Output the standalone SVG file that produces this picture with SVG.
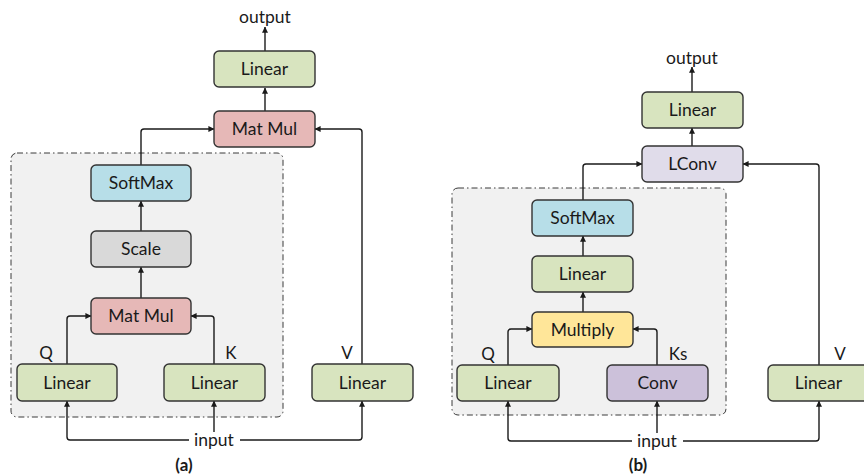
<svg xmlns="http://www.w3.org/2000/svg" width="864" height="476" viewBox="0 0 864 476">
  <defs>
    <marker id="ah" viewBox="0 0 8 8" refX="7.5" refY="4" markerWidth="6" markerHeight="6" markerUnits="userSpaceOnUse" orient="auto">
      <path d="M0,0 L8,4 L0,8 z" fill="#1a1a1a"/>
    </marker>
  </defs>
  <style>
    text { font-family: Lato, "Open Sans", "Liberation Sans", sans-serif; fill: #1a1a1a; }
    .lbl { font-size: 17.5px; text-anchor: middle; }
    .tag { font-size: 17px; text-anchor: middle; }
    .cap { font-size: 17px; font-weight: bold; text-anchor: middle; }
    .box { stroke: #333333; stroke-width: 1.4; }
    .green { fill: #d8e4bf; }
    .red { fill: #e6b8b7; }
    .blue { fill: #b7dee8; }
    .gray { fill: #d9d9d9; }
    .yellow { fill: #ffe699; }
    .lav { fill: #e0dcea; }
    .purple { fill: #ccc1da; }
    .region { fill: #f1f1f1; stroke: #3a3a3a; stroke-width: 1; stroke-dasharray: 6 3 1.5 3; }
    .wire { fill: none; stroke: #1a1a1a; stroke-width: 1.4; }
    .arr { marker-end: url(#ah); }
  </style>

  <!-- shaded attention blocks -->
  <rect class="region" x="11" y="153" width="272" height="264" rx="6"/>
  <rect class="region" x="452" y="188" width="274" height="227" rx="6"/>

  <!-- connectors -->
  <g id="connectors">
    <!-- (a) -->
    <path class="wire arr" d="M265,51 V27"/>
    <path class="wire arr" d="M265,111 V88"/>
    <path class="wire arr" d="M141,165 V132 Q141,129 144,129 H214"/>
    <path class="wire arr" d="M362,364 V132 Q362,129 359,129 H315"/>
    <path class="wire arr" d="M141,231 V201"/>
    <path class="wire arr" d="M141,298 V267"/>
    <path class="wire arr" d="M67,364 V319 Q67,316 70,316 H91"/>
    <path class="wire arr" d="M214,364 V319 Q214,316 211,316 H191"/>
    <path class="wire arr" d="M189,440 H70 Q67,440 67,437 V401"/>
    <path class="wire arr" d="M240,440 H359 Q362,440 362,437 V401"/>
    <path class="wire arr" d="M214,432 V401"/>
    <!-- (b) -->
    <path class="wire arr" d="M692,92 V67"/>
    <path class="wire arr" d="M692,146 V128"/>
    <path class="wire arr" d="M583,200 V167 Q583,164 586,164 H642"/>
    <path class="wire arr" d="M819,365 V167 Q819,164 816,164 H743"/>
    <path class="wire arr" d="M583,256 V236"/>
    <path class="wire arr" d="M583,312 V292"/>
    <path class="wire arr" d="M508,365 V332 Q508,329 511,329 H532"/>
    <path class="wire arr" d="M657,365 V332 Q657,329 654,329 H633"/>
    <path class="wire arr" d="M632,441 H511 Q508,441 508,438 V401"/>
    <path class="wire arr" d="M683,441 H816 Q819,441 819,438 V401"/>
    <path class="wire arr" d="M657,433 V401"/>
  </g>

  <!-- (a) nodes -->
  <g id="a-out-linear"><rect class="box green" x="214" y="51" width="101" height="36" rx="5"/><text class="lbl" x="264.5" y="75">Linear</text></g>
  <g id="a-matmul-top"><rect class="box red" x="214" y="111" width="101" height="36" rx="5"/><text class="lbl" x="264.5" y="135">Mat Mul</text></g>
  <g id="a-softmax"><rect class="box blue" x="91" y="165" width="100" height="36" rx="5"/><text class="lbl" x="141" y="189">SoftMax</text></g>
  <g id="a-scale"><rect class="box gray" x="91" y="231" width="100" height="36" rx="5"/><text class="lbl" x="141" y="255">Scale</text></g>
  <g id="a-matmul"><rect class="box red" x="91" y="298" width="100" height="36" rx="5"/><text class="lbl" x="141" y="322">Mat Mul</text></g>
  <g id="a-q"><rect class="box green" x="17" y="364" width="100" height="37" rx="5"/><text class="lbl" x="67" y="388.5">Linear</text><text class="tag" x="46" y="359">Q</text></g>
  <g id="a-k"><rect class="box green" x="164" y="364" width="101" height="37" rx="5"/><text class="lbl" x="214.5" y="388.5">Linear</text><text class="tag" x="231" y="359">K</text></g>
  <g id="a-v"><rect class="box green" x="312" y="364" width="101" height="37" rx="5"/><text class="lbl" x="362.5" y="388.5">Linear</text><text class="tag" x="347" y="359">V</text></g>
  <text class="lbl" x="265" y="23">output</text>
  <text class="lbl" x="214" y="446">input</text>
  <text class="cap" x="184" y="471">(a)</text>

  <!-- (b) nodes -->
  <g id="b-out-linear"><rect class="box green" x="642" y="92" width="101" height="36" rx="5"/><text class="lbl" x="692.5" y="116">Linear</text></g>
  <g id="b-lconv"><rect class="box lav" x="642" y="146" width="101" height="36" rx="5"/><text class="lbl" x="692.5" y="170">LConv</text></g>
  <g id="b-softmax"><rect class="box blue" x="532" y="200" width="101" height="36" rx="5"/><text class="lbl" x="582.5" y="224">SoftMax</text></g>
  <g id="b-linear"><rect class="box green" x="532" y="256" width="101" height="36" rx="5"/><text class="lbl" x="582.5" y="280">Linear</text></g>
  <g id="b-multiply"><rect class="box yellow" x="532" y="312" width="101" height="35" rx="5"/><text class="lbl" x="582.5" y="335.5">Multiply</text></g>
  <g id="b-q"><rect class="box green" x="457" y="365" width="102" height="36" rx="5"/><text class="lbl" x="508" y="389">Linear</text><text class="tag" x="488" y="360">Q</text></g>
  <g id="b-conv"><rect class="box purple" x="607" y="365" width="101" height="36" rx="5"/><text class="lbl" x="657.5" y="389">Conv</text><text class="tag" x="678" y="360">Ks</text></g>
  <g id="b-v"><rect class="box green" x="768" y="365" width="101" height="36" rx="5"/><text class="lbl" x="818.5" y="389">Linear</text><text class="tag" x="840" y="360">V</text></g>
  <text class="lbl" x="692" y="64">output</text>
  <text class="lbl" x="657" y="447">input</text>
  <text class="cap" x="638" y="471">(b)</text>
</svg>
